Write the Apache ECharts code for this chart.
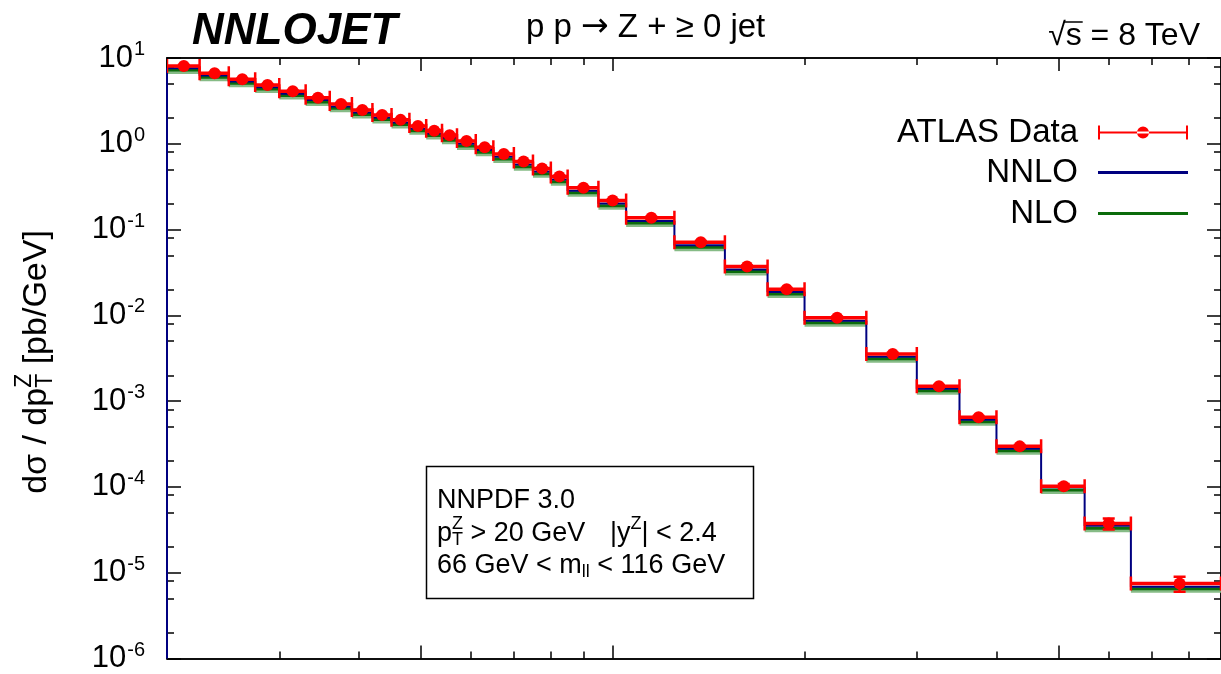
<!DOCTYPE html>
<html>
<head>
<meta charset="utf-8">
<script src="https://cdn.jsdelivr.net/npm/echarts@6/dist/echarts.min.js"></script>
<style>
  html, body { margin: 0; padding: 0; background: #fff; }
  #chart { width: 1221px; height: 674px; }
</style>
</head>
<body>
<div id="chart"></div>
<script>
// pT^Z bin edges [GeV]
const binEdges = [20, 22.5, 25, 27.5, 30, 33, 36, 39, 42, 45, 48, 51, 54, 57, 61, 65, 70, 75, 80, 85,
  95, 105, 125, 150, 175, 200, 250, 300, 350, 400, 470, 550, 650, 900];

// dsigma/dpT [pb/GeV]
const atlasData = [8.07, 6.63, 5.65, 4.85, 4.09, 3.45, 2.91, 2.48, 2.17, 1.90, 1.61, 1.42, 1.26, 1.08,
  0.912, 0.762, 0.620, 0.514, 0.415, 0.308, 0.218, 0.137, 0.0713, 0.0371, 0.0202, 0.00937,
  0.00355, 0.00149, 6.47e-4, 2.97e-4, 1.02e-4, 3.74e-5, 7.48e-6];
const atlasErr = [0.2, 0.16, 0.13, 0.11, 0.09, 0.08, 0.07, 0.06, 0.05, 0.045, 0.04, 0.035, 0.03, 0.027,
  0.023, 0.019, 0.016, 0.013, 0.011, 0.008, 0.006, 0.004, 0.0021, 0.0011, 0.0006, 0.0003,
  0.00012, 0.00005, 2.3e-5, 1.2e-5, 6e-6, 5.5e-6, 1.5e-6];
const nnloValues = [7.62, 6.24, 5.31, 4.55, 3.84, 3.23, 2.72, 2.32, 2.03, 1.77, 1.50, 1.32, 1.17, 1.00,
  0.845, 0.705, 0.573, 0.475, 0.383, 0.284, 0.201, 0.126, 0.0658, 0.0343, 0.0187, 0.00868,
  0.00330, 0.00139, 6.05e-4, 2.78e-4, 9.9e-5, 3.52e-5, 6.85e-6];
const nloValues = [7.25, 5.95, 5.07, 4.34, 3.66, 3.08, 2.59, 2.20, 1.92, 1.68, 1.42, 1.25, 1.10, 0.945,
  0.797, 0.665, 0.540, 0.448, 0.361, 0.268, 0.190, 0.119, 0.0622, 0.0325, 0.0177, 0.00822,
  0.00313, 0.00132, 5.75e-4, 2.64e-4, 9.2e-5, 3.30e-5, 6.5e-6];

// axis ticks
const yMajorTicks = [1e-6, 1e-5, 1e-4, 1e-3, 1e-2, 1e-1, 1, 10];
const yMinorTicks = [2e-6, 5e-6, 8e-6, 2e-5, 5e-5, 8e-5, 2e-4, 5e-4, 8e-4, 2e-3, 5e-3, 8e-3,
  2e-2, 5e-2, 8e-2, 0.2, 0.5, 0.8, 2, 5, 8];
const xMajorTicks = [50, 100, 500];
const xMinorTicks = [30, 40, 60, 70, 80, 90, 200, 300, 400, 600, 700, 800];

const FONT = '"Liberation Sans", Arial, Helvetica, sans-serif';
const RED = '#ff0000';
const NAVY = '#000080';
const GREEN = '#0b6b0b';

const nBins = binEdges.length - 1;
const yMin = 1e-6, yMax = 10;

// NNLO histogram: starts from the axis floor at the first edge
const nnloSteps = [[binEdges[0], yMin]];
for (let i = 0; i < nBins; i++) nnloSteps.push([binEdges[i + 1], nnloValues[i]]);

const nloItems = [];
const dataItems = [];
const dataPoints = [];
for (let i = 0; i < nBins; i++) {
  const lo = binEdges[i], hi = binEdges[i + 1], mid = (lo + hi) / 2;
  nloItems.push([lo, hi, nloValues[i]]);
  dataItems.push([lo, hi, mid, atlasData[i], atlasErr[i]]);
  dataPoints.push([mid, atlasData[i]]);
}

// text helpers for stacked sub/superscripts
const measureCtx = document.createElement('canvas').getContext('2d');
function textWidth(str, size) {
  measureCtx.font = size + 'px ' + FONT;
  return measureCtx.measureText(str).width;
}
function txt(text, x, y, size) {
  return {
    type: 'text', x: x, y: y,
    style: { text: text, font: size + 'px ' + FONT, fill: '#000',
      textAlign: 'left', textVerticalAlign: 'middle', align: 'left', verticalAlign: 'middle' }
  };
}
function richLine(pieces) {
  let cx = 0;
  const children = [];
  pieces.forEach(p => {
    const list = p.stack || [p];
    let w = 0;
    list.forEach(s => {
      children.push(txt(s.text, cx, s.dy || 0, s.size));
      w = Math.max(w, textWidth(s.text, s.size));
    });
    cx += w;
  });
  return { children: children, width: cx };
}

const yTitle = richLine([
  { text: 'dσ / dp', size: 34 },
  { stack: [{ text: 'Z', size: 23, dy: -12 }, { text: 'T', size: 23, dy: 9 }] },
  { text: ' [pb/GeV]', size: 34 }
]);
yTitle.children.forEach(c => { c.x -= yTitle.width / 2; });

const info2a = richLine([
  { text: 'p', size: 27 },
  { stack: [{ text: 'Z', size: 18, dy: -10 }, { text: 'T', size: 18, dy: 6 }] },
  { text: ' > 20 GeV', size: 27 }
]);
const info2b = richLine([
  { text: '|y', size: 27 }, { text: 'Z', size: 18, dy: -10 }, { text: '| < 2.4', size: 27 }
]);
const info3 = richLine([
  { text: '66 GeV < m', size: 27 }, { text: 'll', size: 18, dy: 6 }, { text: ' < 116 GeV', size: 27 }
]);

// sqrt(s) label with overline over s
const rootW = textWidth('√', 32), sW = textWidth('s', 32);
const energy = richLine([{ text: '√', size: 32 }, { text: 's', size: 32 }, { text: ' = 8 TeV', size: 32 }]);
energy.children.push({
  type: 'line', shape: { x1: rootW - 2, y1: -14, x2: rootW + sW + 1, y2: -14 },
  style: { stroke: '#000', lineWidth: 1.5 }
});

function renderNlo(params, api) {
  const a = api.coord([api.value(0), api.value(2)]);
  const b = api.coord([api.value(1), api.value(2)]);
  return {
    type: 'group',
    children: [
      { type: 'rect', shape: { x: a[0], y: a[1] - 1, width: b[0] - a[0], height: 5 },
        style: { fill: '#86bb86' } },
      { type: 'line', shape: { x1: a[0], y1: a[1], x2: b[0], y2: b[1] },
        style: { stroke: GREEN, lineWidth: 3 } }
    ]
  };
}

function renderErr(params, api) {
  const v = api.value(3), e = api.value(4);
  const a = api.coord([api.value(0), v]);
  const b = api.coord([api.value(1), v]);
  const up = api.coord([api.value(2), v + e]);
  const dn = api.coord([api.value(2), v - e]);
  const st = { stroke: RED, lineWidth: 2.5 };
  return {
    type: 'group',
    children: [
      { type: 'line', shape: { x1: a[0], y1: a[1], x2: b[0], y2: b[1] }, style: { stroke: RED, lineWidth: 3.5 } },
      { type: 'line', shape: { x1: a[0], y1: a[1] - 7, x2: a[0], y2: a[1] + 7 }, style: st },
      { type: 'line', shape: { x1: b[0], y1: b[1] - 7, x2: b[0], y2: b[1] + 7 }, style: st },
      { type: 'line', shape: { x1: up[0], y1: up[1], x2: dn[0], y2: dn[1] }, style: st },
      { type: 'line', shape: { x1: up[0] - 6, y1: up[1], x2: up[0] + 6, y2: up[1] }, style: st },
      { type: 'line', shape: { x1: dn[0] - 6, y1: dn[1], x2: dn[0] + 6, y2: dn[1] }, style: st }
    ]
  };
}

const frame = { lineStyle: { color: '#000', width: 1.5 } };
function xAxisDef(position, ticks, len) {
  return {
    type: 'log', logBase: 10, min: binEdges[0], max: binEdges[nBins], position: position,
    axisLine: { onZero: false, ...frame },
    axisTick: { inside: true, length: len, customValues: ticks, lineStyle: { color: '#000', width: 1.5 } },
    axisLabel: { show: false },
    splitLine: { show: false }
  };
}
function yAxisDef(position, ticks, len, labels) {
  return {
    type: 'log', logBase: 10, min: yMin, max: yMax, position: position,
    axisLine: { onZero: false, ...frame },
    axisTick: { inside: true, length: len, customValues: ticks, lineStyle: { color: '#000', width: 1.5 } },
    axisLabel: labels ? {
      show: true, customValues: yMajorTicks, margin: 22,
      formatter: v => '{b|10}{s|' + Math.round(Math.log10(v)) + '}',
      rich: {
        b: { fontSize: 31, fontFamily: FONT, color: '#000' },
        s: { fontSize: 20, fontFamily: FONT, color: '#000', padding: [0, 0, 17, 1] }
      }
    } : { show: false },
    splitLine: { show: false }
  };
}

const errIcon = 'path://M0,0H2V14H0Z M88,0H90V14H88Z M2,6H88V8H2Z M39,7A6,6,0,1,0,51,7A6,6,0,1,0,39,7Z';
function legendDef(name, icon, itemHeight, top) {
  return {
    data: [{ name: name, icon: icon }],
    right: 33, top: top, orient: 'vertical', align: 'right', padding: 0,
    itemWidth: 90, itemHeight: itemHeight, selectedMode: false,
    textStyle: { fontSize: 33, color: '#000', fontFamily: FONT, padding: [0, 15, 0, 0] }
  };
}

const chart = echarts.init(document.getElementById('chart'));
chart.setOption({
  animation: false,
  backgroundColor: '#fff',
  textStyle: { fontFamily: FONT },
  grid: { left: 167, right: -3, top: 58, bottom: 15 },
  xAxis: [
    xAxisDef('bottom', xMajorTicks, 13),
    xAxisDef('bottom', xMinorTicks, 7),
    xAxisDef('top', xMajorTicks, 13),
    xAxisDef('top', xMinorTicks, 7)
  ],
  yAxis: [
    yAxisDef('left', yMajorTicks, 14, true),
    yAxisDef('left', yMinorTicks, 7, false),
    yAxisDef('right', yMajorTicks, 14, false),
    yAxisDef('right', yMinorTicks, 7, false)
  ],
  legend: [
    legendDef('ATLAS Data', errIcon, 14, 116),
    legendDef('NNLO', 'rect', 3, 156),
    legendDef('NLO', 'rect', 3, 197)
  ],
  graphic: [
    { type: 'text', left: 192, top: 10,
      style: { text: 'NNLOJET', font: 'italic bold 44px ' + FONT, fill: '#000' } },
    { type: 'text', left: 526, top: 11,
      style: {
        text: '{a|p p }{b|→}{a| Z + ≥ 0 jet}',
        rich: {
          a: { fontSize: 33, fontFamily: FONT, color: '#000' },
          b: { fontSize: 33, fontFamily: '"DejaVu Sans"', color: '#000' }
        }
      } },
    { type: 'group', x: 1200 - energy.width, y: 36, children: energy.children },
    { type: 'group', x: 37, y: 362, rotation: Math.PI / 2, children: yTitle.children },
    { type: 'rect', shape: { x: 426.5, y: 466.5, width: 327, height: 132 },
      style: { fill: '#fff', stroke: '#000', lineWidth: 1.5 } },
    { type: 'group', x: 437, y: 501, children: [txt('NNPDF 3.0', 0, 0, 27)] },
    { type: 'group', x: 437, y: 534, children: info2a.children },
    { type: 'group', x: 610, y: 534, children: info2b.children },
    { type: 'group', x: 437, y: 566, children: info3.children }
  ],
  series: [
    {
      name: 'NLO', type: 'custom', renderItem: renderNlo, data: nloItems, z: 2,
      encode: { x: [0, 1], y: 2 }, itemStyle: { color: GREEN }, clip: true
    },
    {
      name: 'NNLO', type: 'line', step: 'start', data: nnloSteps, z: 3,
      symbol: 'none', showSymbol: false,
      lineStyle: { color: NAVY, width: 2 }, itemStyle: { color: NAVY }
    },
    {
      name: 'ATLAS Data err', type: 'custom', renderItem: renderErr, data: dataItems, z: 4,
      encode: { x: [0, 1, 2], y: 3 }, itemStyle: { color: RED }, clip: true
    },
    {
      name: 'ATLAS Data', type: 'scatter', data: dataPoints, z: 5,
      symbol: 'circle', symbolSize: 12, itemStyle: { color: RED, opacity: 1 }
    }
  ]
});
window.addEventListener('resize', () => chart.resize());
</script>
</body>
</html>
